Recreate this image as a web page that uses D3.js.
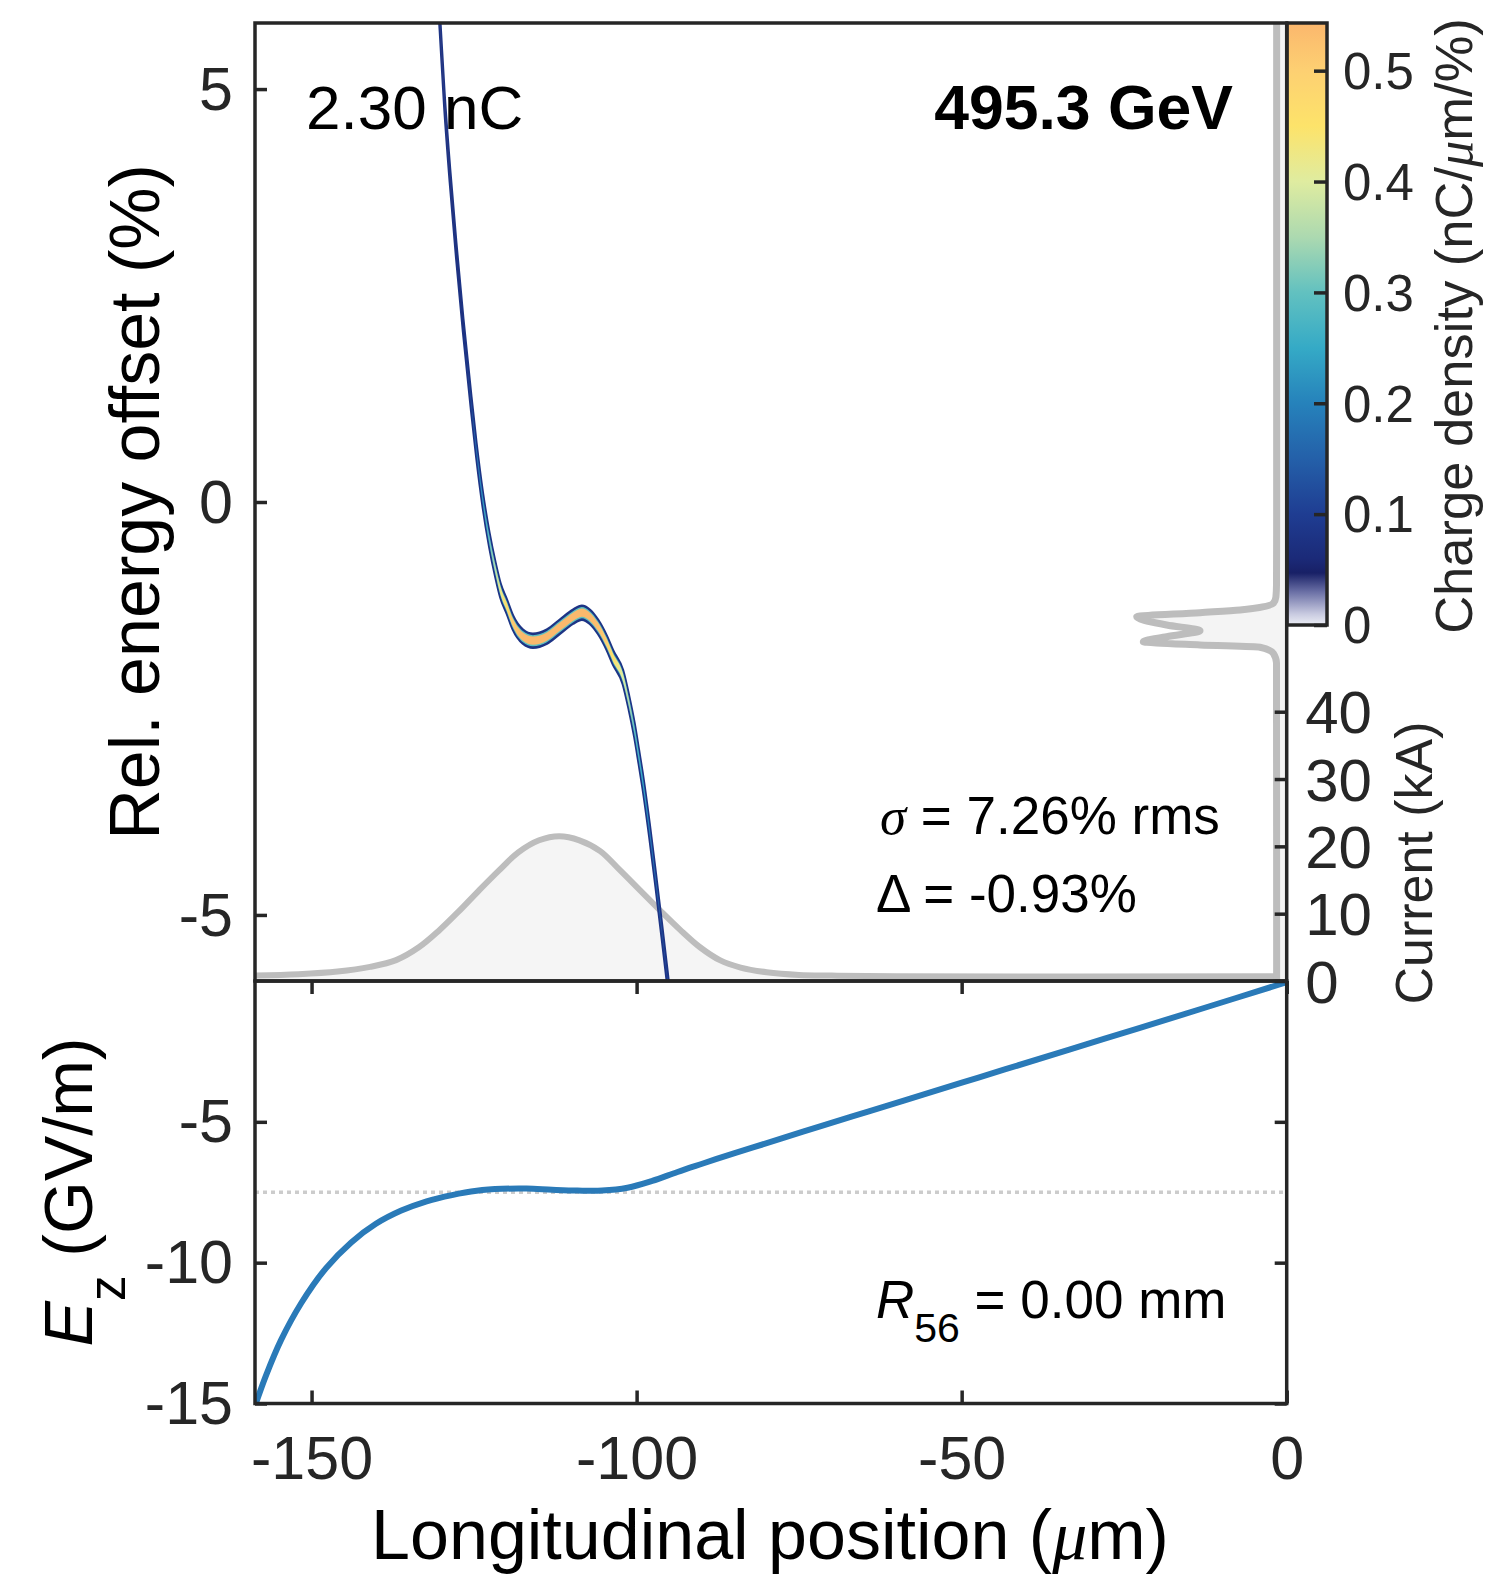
<!DOCTYPE html>
<html>
<head>
<meta charset="utf-8">
<script src="https://cdn.jsdelivr.net/npm/d3@7"></script>
<style>
  html, body { margin: 0; padding: 0; background: #ffffff; }
  svg { display: block; }
</style>
</head>
<body>
<svg id="chart" width="1488" height="1574"></svg>
<script>
// ---------------- data ----------------
// Beam centroid in longitudinal phase space (position in µm, energy offset in %)
const beamPosition = [-130.48, -130.26, -129.57, -128.72, -127.75, -126.68, -125.49, -124.65, -123.65, -122.65,
  -121.72, -120.95, -119.95, -119.03, -117.49, -115.95, -113.80, -111.80, -109.80, -108.42,
  -107.18, -105.95, -104.57, -103.64, -102.11, -101.18, -100.34, -99.65, -99.08, -98.03,
  -97.06, -96.14, -95.29, -94.88];
const beamEnergy = [6.08, 5.80, 4.87, 3.96, 3.05, 2.14, 1.23, 0.63, 0.02, -0.46,
  -0.82, -1.07, -1.27, -1.46, -1.63, -1.68, -1.63, -1.51, -1.39, -1.34,
  -1.39, -1.51, -1.71, -1.88, -2.12, -2.43, -2.76, -3.09, -3.37, -3.97,
  -4.58, -5.18, -5.75, -6.03];
// Peak charge density along the beam (nC/µm/%)
const beamDensity = [0.07, 0.07, 0.07, 0.075, 0.08, 0.09, 0.12, 0.17, 0.23, 0.30,
  0.36, 0.42, 0.47, 0.51, 0.54, 0.54, 0.54, 0.54, 0.54, 0.54,
  0.54, 0.53, 0.50, 0.46, 0.40, 0.35, 0.30, 0.27, 0.25, 0.20,
  0.16, 0.13, 0.11, 0.10];
// Half-heights of the band layers, in % (outer, middle, core)
const beamHalfWidths = [0.084, 0.068, 0.050];

// Current profile (kA)
const currentPosition = [-158.7, -152, -146, -141, -137, -133.5, -130.5, -127.4, -124.3, -121.2,
  -118.2, -115, -111.9, -108.8, -105.6, -102.6, -99.5, -96.4, -93.3, -90.3,
  -87.2, -84, -80, -75, -70, -60, 0];
const currentKA = [0.8, 1.0, 1.4, 2.1, 3.1, 5.0, 7.4, 10.3, 13.4, 16.4,
  19.1, 20.9, 21.5, 20.9, 19.3, 16.5, 13.5, 10.5, 7.6, 5.05,
  3.1, 2.0, 1.3, 0.9, 0.8, 0.7, 0.7];

// Energy spectrum (arbitrary units, drawn from the right edge)
const spectrumEnergy = [6.0, 0.0, -1.00, -1.15, -1.226, -1.307, -1.340, -1.389, -1.489, -1.558,
  -1.631, -1.691, -1.731, -1.759, -1.832, -1.95, -6.0];
const spectrumAmplitude = [0.067, 0.067, 0.068, 0.072, 0.089, 0.311, 0.578, 1.0, 0.80, 0.578,
  0.80, 0.956, 0.578, 0.178, 0.089, 0.068, 0.067];

// Longitudinal wakefield (GV/m)
const fieldPosition = [-158.57, -157.0, -154.7, -151.6, -147.8, -143.9, -140.1, -136.2, -132.3, -128.4,
  -124.6, -120.7, -116.9, -113.0, -109.1, -105.3, -101.4, -97.6, -93.7, -89.8,
  -86.0, -82.1, -74.4, -66.7, -58.9, -50.1, -43.5, -28.0, -12.6, -0.26];
const fieldEz = [-15.0, -14.0, -12.75, -11.44, -10.20, -9.28, -8.62, -8.15, -7.82, -7.60,
  -7.45, -7.38, -7.37, -7.41, -7.44, -7.44, -7.34, -7.10, -6.78, -6.48,
  -6.19, -5.91, -5.35, -4.80, -4.25, -3.62, -3.15, -2.05, -0.95, -0.06];
const fieldReference = -7.5;

// Ticks
const xTicks = [-150, -100, -50, 0];
const energyTicks = [5, 0, -5];
const currentTicks = [0, 10, 20, 30, 40];
const ezTicks = [-5, -10, -15];
const densityTicks = [0, 0.1, 0.2, 0.3, 0.4, 0.5];

// Colormap for charge density
const colorStops = [0, 0.01, 0.03, 0.047, 0.06, 0.1, 0.15, 0.2, 0.25, 0.3, 0.35, 0.4, 0.45, 0.5, 0.543];
const colorValues = ["#eceef5", "#c8cae0", "#6a6fa5", "#182066", "#1b2a78", "#1f3d92", "#2460a9", "#2682bb",
  "#35aac6", "#62c1c0", "#acd9b0", "#dfeca0", "#fde36a", "#fdd072", "#fbb76d"];

// Annotation texts
const chargeLabel = "2.30 nC";
const energyLabel = "495.3 GeV";

// ---------------- layout ----------------
const FONT = "'Liberation Sans', Arial, Helvetica, sans-serif";
const SERIF = "'Liberation Serif', 'Times New Roman', serif";
const INK = "#262626";
const left = 255, right = 1286.7;
const topY = 23, splitY = 981, bottomY = 1403.5;
const cbLeft = 1287, cbRight = 1327, cbTop = 23, cbBottom = 625;

const svg = d3.select("#chart");

const x = d3.scaleLinear().domain([-158.7, 0]).range([left, right]);
const yE = d3.scaleLinear().domain([-5.8, 5.8]).range([splitY, topY]);
const yI = d3.scaleLinear().domain([0, 142.3]).range([splitY, topY]);
const yEz = d3.scaleLinear().domain([-15, 0]).range([bottomY, splitY]);
const spec = d3.scaleLinear().domain([0, 1]).range([right, right - 150]);
const cbY = d3.scaleLinear().domain([0, 0.543]).range([cbBottom, cbTop]);
const color = d3.scaleLinear().domain(colorStops).range(colorValues).clamp(true);
const smooth = d3.curveCatmullRom.alpha(0.5);

const defs = svg.append("defs");
defs.append("clipPath").attr("id", "clip-top")
  .append("rect").attr("x", left).attr("y", topY).attr("width", right - left).attr("height", splitY - topY);
defs.append("clipPath").attr("id", "clip-bottom")
  .append("rect").attr("x", left).attr("y", splitY).attr("width", right - left).attr("height", bottomY - splitY);

// ---------------- top panel ----------------
const phasePanel = svg.append("g").attr("clip-path", "url(#clip-top)");

const current = currentPosition.map((p, i) => ({ p, v: currentKA[i] }));
phasePanel.append("path").datum(current)
  .attr("fill", "#f5f5f5")
  .attr("d", d3.area().x(d => x(d.p)).y0(yI(0)).y1(d => yI(d.v)).curve(smooth));
phasePanel.append("path").datum(current)
  .attr("fill", "none").attr("stroke", "#bdbdbd").attr("stroke-width", 6)
  .attr("d", d3.line().x(d => x(d.p)).y(d => yI(d.v)).curve(smooth));

const spectrum = spectrumEnergy.map((e, i) => ({ e, a: spectrumAmplitude[i] }));
phasePanel.append("path").datum(spectrum)
  .attr("fill", "#f4f4f4")
  .attr("d", d3.area().y(d => yE(d.e)).x0(spec(0)).x1(d => spec(d.a)).curve(d3.curveMonotoneY));
phasePanel.append("path").datum(spectrum)
  .attr("fill", "none").attr("stroke", "#bdbdbd").attr("stroke-width", 7)
  .attr("stroke-linejoin", "round")
  .attr("d", d3.line().y(d => yE(d.e)).x(d => spec(d.a)).curve(d3.curveMonotoneY));

// Beam band: three nested layers coloured by the density scale
const beam = beamPosition.map((p, i) => ({ p, e: beamEnergy[i], d: beamDensity[i] }));
const band = w => d3.area().x(d => x(d.p)).y0(d => yE(d.e - w)).y1(d => yE(d.e + w)).curve(d3.curveMonotoneX);
const bx0 = x(beamPosition[0]), bx1 = x(beamPosition[beamPosition.length - 1]);
function gradient(id, factor) {
  const g = defs.append("linearGradient").attr("id", id)
    .attr("gradientUnits", "userSpaceOnUse")
    .attr("x1", bx0).attr("x2", bx1).attr("y1", 0).attr("y2", 0);
  beam.forEach(d => g.append("stop")
    .attr("offset", (x(d.p) - bx0) / (bx1 - bx0))
    .attr("stop-color", color(d.d * factor)));
}
gradient("beam-mid", 0.55);
gradient("beam-core", 1.0);

phasePanel.append("path").datum(beam)
  .attr("fill", color(0.06)).attr("stroke", color(0.08)).attr("stroke-width", 2.6)
  .attr("stroke-linejoin", "round")
  .attr("d", band(beamHalfWidths[0]));
phasePanel.append("path").datum(beam)
  .attr("fill", "url(#beam-mid)")
  .attr("d", band(beamHalfWidths[1]));
phasePanel.append("path").datum(beam)
  .attr("fill", "url(#beam-core)")
  .attr("d", band(beamHalfWidths[2]));

// ---------------- bottom panel ----------------
const fieldPanel = svg.append("g").attr("clip-path", "url(#clip-bottom)");
fieldPanel.append("line")
  .attr("x1", left).attr("x2", right)
  .attr("y1", yEz(fieldReference)).attr("y2", yEz(fieldReference))
  .attr("stroke", "#cccccc").attr("stroke-width", 3.5).attr("stroke-dasharray", "4,4");
const field = fieldPosition.map((p, i) => ({ p, v: fieldEz[i] }));
fieldPanel.append("path").datum(field)
  .attr("fill", "none").attr("stroke", "#2a7ab8").attr("stroke-width", 6)
  .attr("stroke-linecap", "round")
  .attr("d", d3.line().x(d => x(d.p)).y(d => yEz(d.v)).curve(smooth));

// ---------------- colorbar ----------------
const cbGrad = defs.append("linearGradient").attr("id", "cb-grad")
  .attr("gradientUnits", "userSpaceOnUse")
  .attr("x1", 0).attr("x2", 0).attr("y1", cbY(0)).attr("y2", cbY(0.543));
colorStops.forEach((s, i) => cbGrad.append("stop")
  .attr("offset", s / 0.543).attr("stop-color", colorValues[i]));
svg.append("rect")
  .attr("x", cbLeft).attr("y", cbTop).attr("width", cbRight - cbLeft).attr("height", cbBottom - cbTop)
  .attr("fill", "url(#cb-grad)").attr("stroke", INK).attr("stroke-width", 3.5);

// ---------------- axes ----------------
const fmt = d => String(d);
function styleAxis(g, size) {
  g.attr("font-family", FONT).attr("font-size", size);
  g.select(".domain").remove();
  g.selectAll(".tick line").attr("stroke", INK).attr("stroke-width", 3.5);
  g.selectAll(".tick text").attr("fill", INK);
  return g;
}

// top panel: energy (left) and current (right)
styleAxis(svg.append("g").attr("transform", `translate(${left},0)`)
  .call(d3.axisLeft(yE).tickValues(energyTicks).tickFormat(fmt).tickSize(-12).tickSizeOuter(0).tickPadding(22)), 61)
  .selectAll(".tick text").attr("dy", "0.33em");
styleAxis(svg.append("g").attr("transform", `translate(${right},0)`)
  .call(d3.axisRight(yI).tickValues(currentTicks).tickFormat(fmt).tickSize(-12).tickSizeOuter(0).tickPadding(18.5)), 60)
  .selectAll(".tick text").attr("dy", "0.35em");

// bottom panel
styleAxis(svg.append("g").attr("transform", `translate(0,${bottomY})`)
  .call(d3.axisBottom(x).tickValues(xTicks).tickFormat(fmt).tickSize(-13).tickSizeOuter(0).tickPadding(32)), 61);
styleAxis(svg.append("g").attr("transform", `translate(0,${splitY})`)
  .call(d3.axisTop(x).tickValues(xTicks).tickFormat("").tickSize(-13).tickSizeOuter(0)), 61);
styleAxis(svg.append("g").attr("transform", `translate(${left},0)`)
  .call(d3.axisLeft(yEz).tickValues(ezTicks).tickFormat(fmt).tickSize(-12).tickSizeOuter(0).tickPadding(22)), 61)
  .selectAll(".tick text").attr("dy", "0.33em");
styleAxis(svg.append("g").attr("transform", `translate(${right},0)`)
  .call(d3.axisRight(yEz).tickValues(ezTicks).tickFormat("").tickSize(-12).tickSizeOuter(0)), 61);

// colorbar ticks
styleAxis(svg.append("g").attr("transform", `translate(${cbRight},0)`)
  .call(d3.axisRight(cbY).tickValues(densityTicks).tickFormat(fmt).tickSize(-13).tickSizeOuter(0).tickPadding(16)), 51)
  .selectAll(".tick text").attr("dy", "0.35em");

// panel frames
[[topY, splitY], [splitY, bottomY]].forEach(([a, b]) => svg.append("rect")
  .attr("x", left).attr("y", a).attr("width", right - left).attr("height", b - a)
  .attr("fill", "none").attr("stroke", INK).attr("stroke-width", 3.5));

// ---------------- text ----------------
const txt = (sx, sy, size) => svg.append("text")
  .attr("x", sx).attr("y", sy).attr("font-family", FONT).attr("font-size", size).attr("fill", "#000");

txt(306, 128.5, 62).text(chargeLabel);
txt(1233, 128.5, 62.5).attr("text-anchor", "end").attr("font-weight", "bold").text(energyLabel);

const s1 = txt(880, 833.5, 53);
s1.append("tspan").attr("font-family", SERIF).attr("font-style", "italic").text("σ");
s1.append("tspan").text(" = 7.26% rms");
txt(876, 911.7, 53).text("Δ = -0.93%");

const r56 = txt(876, 1318, 53);
r56.append("tspan").attr("font-style", "italic").text("R");
r56.append("tspan").attr("font-size", 41).attr("dy", 24).text("56");
r56.append("tspan").attr("dy", -24).text(" = 0.00 mm");

// axis titles
svg.append("text").attr("transform", "translate(158.6,502) rotate(-90)")
  .attr("text-anchor", "middle").attr("font-family", FONT).attr("font-size", 70).attr("fill", "#000")
  .text("Rel. energy offset (%)");

const ezLabel = svg.append("text").attr("transform", "translate(92,1192) rotate(-90)")
  .attr("text-anchor", "middle").attr("font-family", FONT).attr("font-size", 68).attr("fill", "#000");
ezLabel.append("tspan").attr("font-style", "italic").text("E");
ezLabel.append("tspan").attr("font-size", 51).attr("dy", 33).text("z");
ezLabel.append("tspan").attr("dy", -33).text(" (GV/m)");

const xLabel = svg.append("text").attr("x", 770).attr("y", 1559)
  .attr("text-anchor", "middle").attr("font-family", FONT).attr("font-size", 70).attr("fill", "#000");
xLabel.append("tspan").text("Longitudinal position (");
xLabel.append("tspan").attr("font-family", SERIF).attr("font-style", "italic").text("μ");
xLabel.append("tspan").text("m)");

svg.append("text").attr("transform", "translate(1432,863) rotate(-90)")
  .attr("text-anchor", "middle").attr("font-family", FONT).attr("font-size", 52).attr("fill", INK)
  .text("Current (kA)");

const cbLabel = svg.append("text").attr("transform", "translate(1471.7,326) rotate(-90)")
  .attr("text-anchor", "middle").attr("font-family", FONT).attr("font-size", 52.5).attr("fill", INK);
cbLabel.append("tspan").text("Charge density (nC/");
cbLabel.append("tspan").attr("font-family", SERIF).attr("font-style", "italic").text("μ");
cbLabel.append("tspan").text("m/%)");
</script>
</body>
</html>
